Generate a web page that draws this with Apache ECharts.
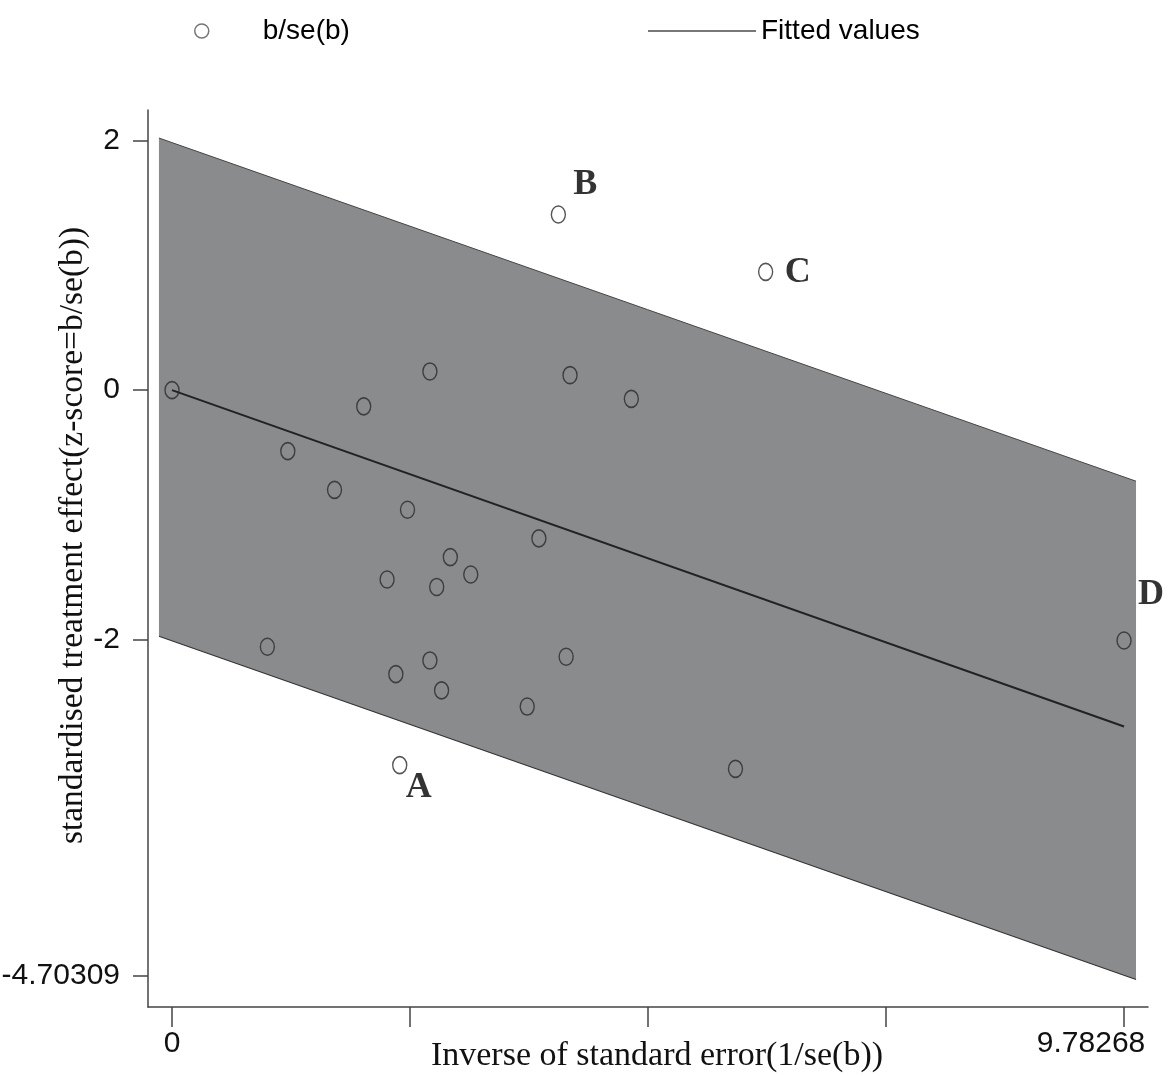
<!DOCTYPE html>
<html>
<head>
<meta charset="utf-8">
<title>Galbraith plot</title>
<script src="https://cdn.jsdelivr.net/npm/echarts@6/dist/echarts.min.js"></script>
<style>
  html, body { margin: 0; padding: 0; background: #fff; }
  #main { width: 1173px; height: 1076px; }
</style>
</head>
<body>
<div id="main"></div>
<script>
// study points: x = 1/se(b), y = b/se(b)
const xVals = [0, 1.19, 0.98, 1.67, 1.97, 2.21, 2.30, 2.34, 2.42, 2.65, 2.65, 2.72, 2.77, 2.86, 3.07, 3.65, 3.77, 3.97, 4.05, 4.09, 4.72, 5.79, 6.10, 9.78268];
const yVals = [0, -0.49, -2.06, -0.80, -0.13, -1.52, -2.28, -3.01, -0.96, 0.15, -2.17, -1.58, -2.41, -1.34, -1.48, -2.54, -1.19, 1.41, -2.14, 0.12, -0.07, -3.04, 0.95, -2.01];
const pointTags = ['', '', '', '', '', '', '', 'A', '', '', '', '', '', '', '', '', '', 'B', '', '', '', '', 'C', 'D'];

// fitted regression line
const fitX = [0, 9.78268];
const fitY = [0, -2.70];

// +/-2 band around the fitted line
const bandX = [-0.134, 9.906];
const bandUpper = [2.024, -0.731];
const bandLower = [-1.976, -4.731];

// axis ticks
const xTicks = [0, 2.44567, 4.89134, 7.33701, 9.78268];
const xTickLabels = [0, 9.78268];
const yTicks = [2, 0, -2, -4.70309];

const sans = "'Liberation Sans', Arial, sans-serif";
const serif = "'Liberation Serif', 'Times New Roman', serif";

const tagOffsets = { A: [19, 23], B: [27, -30], C: [32, 1], D: [27, -46] };

const chart = echarts.init(document.getElementById('main'));

const scatterData = xVals.map((x, i) => {
  const tag = pointTags[i];
  const item = { value: [x, yVals[i]] };
  if (tag) {
    item.label = {
      show: true,
      formatter: tag,
      position: 'inside',
      offset: tagOffsets[tag],
      fontFamily: serif,
      fontWeight: 'bold',
      fontSize: 36,
      color: '#000'
    };
  }
  return item;
});

const bandData = bandX.map((x, i) => [x, bandUpper[i], bandLower[i]]);

const option = {
  animation: false,
  backgroundColor: '#fff',
  grid: { left: 148, right: 25, top: 110, bottom: 69, containLabel: false, outerBoundsMode: 'none' },
  legend: [
    {
      data: [{ name: 'b/se(b)', icon: 'circle', itemStyle: { color: '#fff', borderColor: '#555', borderWidth: 1.5 } }],
      left: 189, top: 12,
      itemWidth: 14, itemHeight: 17,
      textStyle: { fontFamily: sans, fontSize: 28, color: '#000', padding: [0, 0, 0, 49] }
    },
    {
      data: [{ name: 'Fitted values', icon: 'rect', itemStyle: { color: '#777' } }],
      left: 643, top: 12,
      itemWidth: 108, itemHeight: 2,
      textStyle: { fontFamily: sans, fontSize: 28, color: '#000' }
    }
  ],
  xAxis: {
    type: 'value',
    min: -0.2466, max: 10.029,
    name: 'Inverse of standard error(1/se(b))',
    nameLocation: 'middle',
    nameGap: 32,
    nameMoveOverlap: false,
    nameTextStyle: { fontFamily: serif, fontSize: 34, color: '#111', padding: [0, 0, 0, 18] },
    axisLine: { onZero: false, lineStyle: { color: '#444', width: 1.5 } },
    axisTick: { customValues: xTicks, length: 20, lineStyle: { color: '#444', width: 1.5 } },
    axisLabel: {
      customValues: xTickLabels,
      margin: 22,
      fontFamily: sans, fontSize: 30, color: '#111',
      formatter: v => (v === 0 ? '0' : '{r|' + v + '}'),
      rich: { r: { fontFamily: sans, fontSize: 30, color: '#111', padding: [0, 66, 0, 0] } }
    },
    splitLine: { show: false }
  },
  yAxis: {
    type: 'value',
    min: -4.952, max: 2.249,
    name: 'standardised treatment effect(z-score=b/se(b))',
    nameLocation: 'middle',
    nameGap: 58,
    nameMoveOverlap: false,
    nameTextStyle: { fontFamily: serif, fontSize: 33.5, color: '#111', padding: [0, 0, 0, 46] },
    axisLine: { onZero: false, lineStyle: { color: '#444', width: 1.5 } },
    axisTick: { customValues: yTicks, length: 15, lineStyle: { color: '#444', width: 1.5 } },
    axisLabel: {
      customValues: yTicks,
      margin: 28,
      fontFamily: sans, fontSize: 30, color: '#111',
      formatter: v => String(v)
    },
    splitLine: { show: false }
  },
  series: [
    {
      name: 'band',
      type: 'custom',
      z: 1,
      silent: true,
      data: bandData,
      encode: { x: 0, y: [1, 2] },
      renderItem: (params, api) => {
        if (params.dataIndex !== 0) return null;
        const top = bandData.map(d => api.coord([d[0], d[1]]));
        const bottom = bandData.map(d => api.coord([d[0], d[2]]));
        const poly = top.concat(bottom.slice().reverse());
        return {
          type: 'group',
          children: [
            { type: 'polygon', shape: { points: poly }, style: { fill: '#8a8b8d', stroke: null } },
            { type: 'polyline', shape: { points: top }, style: { stroke: '#444', lineWidth: 1, fill: null } },
            { type: 'polyline', shape: { points: bottom }, style: { stroke: '#333', lineWidth: 1.2, fill: null } }
          ]
        };
      }
    },
    {
      name: 'Fitted values',
      type: 'line',
      z: 3,
      data: fitX.map((x, i) => [x, fitY[i]]),
      symbol: 'none',
      lineStyle: { color: '#222', width: 2 },
      itemStyle: { color: '#777' }
    },
    {
      name: 'b/se(b)',
      type: 'scatter',
      z: 4,
      data: scatterData,
      symbol: 'circle',
      symbolSize: [14, 17],
      itemStyle: { color: 'rgba(0,0,0,0)', borderColor: '#2a2a2a', borderWidth: 1.5 }
    }
  ]
};

chart.setOption(option);
</script>
</body>
</html>
